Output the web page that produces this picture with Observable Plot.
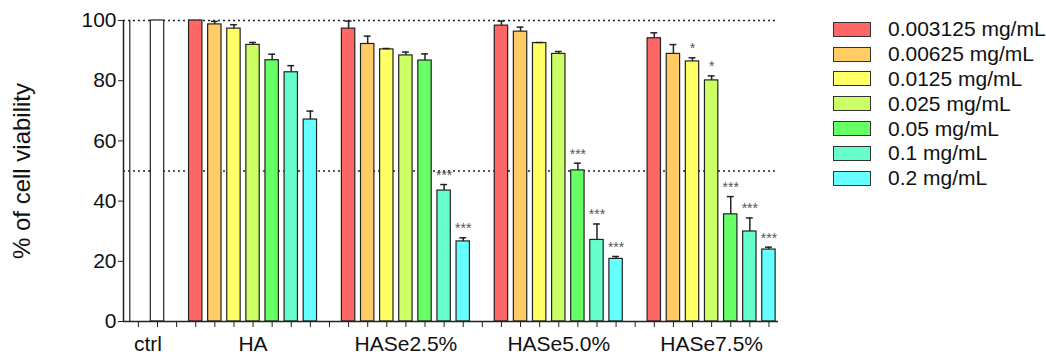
<!DOCTYPE html>
<html>
<head>
<meta charset="utf-8">
<script src="https://cdn.jsdelivr.net/npm/d3@7"></script>
<script src="https://cdn.jsdelivr.net/npm/@observablehq/plot@0.6"></script>
<style>
  html, body { margin: 0; padding: 0; background: #fff; }
  #wrap { position: relative; width: 1046px; height: 356px; font-family: "Liberation Sans", Arial, sans-serif; }
  #legend { position: absolute; left: 833px; top: 17px; }
  .row { display: flex; align-items: center; height: 24.8px; }
  .sw { width: 36px; height: 13px; border: 1px solid #333; box-sizing: content-box; }
  .lab { margin-left: 17px; font-size: 21px; color: #111; white-space: nowrap; }
</style>
</head>
<body>
<div id="wrap"><div id="legend"></div></div>
<script>
// ---- data ----
const groups = ["ctrl", "HA", "HASe2.5%", "HASe5.0%", "HASe7.5%"];
const concentrations = ["0.003125 mg/mL", "0.00625 mg/mL", "0.0125 mg/mL", "0.025 mg/mL", "0.05 mg/mL", "0.1 mg/mL", "0.2 mg/mL"];
const colors = ["#ff6666", "#ffcc66", "#ffff66", "#ccff66", "#66ff66", "#66ffcc", "#66ffff"];
const ctrlValue = [100];
const haMean = [100, 98.7, 97.3, 91.9, 86.8, 82.8, 67.1];
const haErr = [0, 1.0, 1.3, 0.8, 2.0, 2.2, 2.8];
const hase25Mean = [97.3, 92.2, 90.4, 88.4, 86.7, 43.5, 26.6];
const hase25Err = [2.5, 2.6, 0.3, 1.1, 2.2, 2.0, 1.2];
const hase50Mean = [98.3, 96.3, 92.5, 88.9, 50.2, 27.1, 20.8];
const hase50Err = [1.5, 1.5, 0.2, 0.8, 2.4, 5.3, 0.8];
const hase75Mean = [94.1, 88.9, 86.4, 80.1, 35.6, 29.9, 23.9];
const hase75Err = [1.8, 3.1, 1.2, 1.5, 5.9, 4.5, 0.8];
const haSig = ["", "", "", "", "", "", ""];
const hase25Sig = ["", "", "", "", "", "***", "***"];
const hase50Sig = ["", "", "", "", "***", "***", "***"];
const hase75Sig = ["", "", "*", "*", "***", "***", "***"];
const yTicks = [0, 20, 40, 60, 80, 100];
const refLines = [50, 100];
const yLabel = "% of cell viability";

// ---- build table ----
const treated = [
  {name: "HA", mean: haMean, err: haErr, sig: haSig},
  {name: "HASe2.5%", mean: hase25Mean, err: hase25Err, sig: hase25Sig},
  {name: "HASe5.0%", mean: hase50Mean, err: hase50Err, sig: hase50Sig},
  {name: "HASe7.5%", mean: hase75Mean, err: hase75Err, sig: hase75Sig}
];
const ctrlSlots = [0, 1];
const rows = [];
rows.push({group: "ctrl", slot: ctrlSlots[1], value: ctrlValue[0], err: 0, sig: "", fill: "#ffffff"});
treated.forEach((g, gi) => {
  g.mean.forEach((v, k) => {
    rows.push({group: g.name, slot: 3 + 8 * gi + k, value: v, err: g.err[k], sig: g.sig[k], fill: colors[k]});
  });
});
const allSlots = d3.range(0, 3 + 8 * 3 + 7);
const labelPos = [{label: groups[0], x: d3.mean(ctrlSlots)}].concat(
  treated.map((g, gi) => ({label: g.name, x: 3 + 8 * gi + 3}))
);
const xDomain = [-0.78, 33.5];
const hw = 0.35;

const plot = Plot.plot({
  width: 1046,
  height: 356,
  marginLeft: 123,
  marginRight: 268,
  marginTop: 20,
  marginBottom: 35,
  style: {fontFamily: "Liberation Sans, Arial, sans-serif", background: "transparent", color: "#111"},
  x: {domain: xDomain, axis: null},
  y: {domain: [0, 100], axis: null},
  marks: [
    Plot.ruleY(refLines, {stroke: "#222", strokeDasharray: "2,3", strokeWidth: 1.3}),
    Plot.ruleX([ctrlSlots[0]], {x: d => d - 0.45, y1: 0, y2: 100, stroke: "#222", strokeWidth: 1.2}),
    Plot.rect(rows, {x1: d => d.slot - hw, x2: d => d.slot + hw, y1: 0, y2: "value", fill: d => d.fill, stroke: "#222", strokeWidth: 1.2}),
    Plot.ruleX(rows.filter(d => d.err > 0), {x: "slot", y1: "value", y2: d => d.value + d.err, stroke: "#222", strokeWidth: 1.5}),
    Plot.ruleY(rows.filter(d => d.err > 0), {x1: d => d.slot - 0.18, x2: d => d.slot + 0.18, y: d => d.value + d.err, stroke: "#222", strokeWidth: 1.5}),
    Plot.text(rows.filter(d => d.sig), {x: "slot", y: d => d.value + d.err, text: "sig", dy: -9, lineAnchor: "middle", fontSize: 14, fill: "#555"}),
    Plot.ruleY([0], {stroke: "#222", strokeWidth: 1.5}),
    Plot.ruleX([xDomain[0]], {stroke: "#222", strokeWidth: 1.5}),
    Plot.axisY({ticks: yTicks, tickSize: 5, tickPadding: 2, fontSize: 21, label: null, stroke: "#222"}),
    Plot.axisX({ticks: allSlots, tickSize: 6, tickFormat: () => "", label: null, stroke: "#222"}),
    Plot.text(labelPos, {x: "x", y: 0, text: "label", dy: 23, lineAnchor: "middle", fontSize: 21, fill: "#111"}),
    Plot.text([yLabel], {frameAnchor: "left", textAnchor: "middle", rotate: -90, dx: -101, fontSize: 24, fill: "#111"})
  ]
});
document.getElementById("wrap").prepend(plot);

const legend = document.getElementById("legend");
concentrations.forEach((c, i) => {
  const row = document.createElement("div");
  row.className = "row";
  const sw = document.createElement("div");
  sw.className = "sw";
  sw.style.background = colors[i];
  const lab = document.createElement("div");
  lab.className = "lab";
  lab.textContent = c;
  row.appendChild(sw);
  row.appendChild(lab);
  legend.appendChild(row);
});
</script>
</body>
</html>
